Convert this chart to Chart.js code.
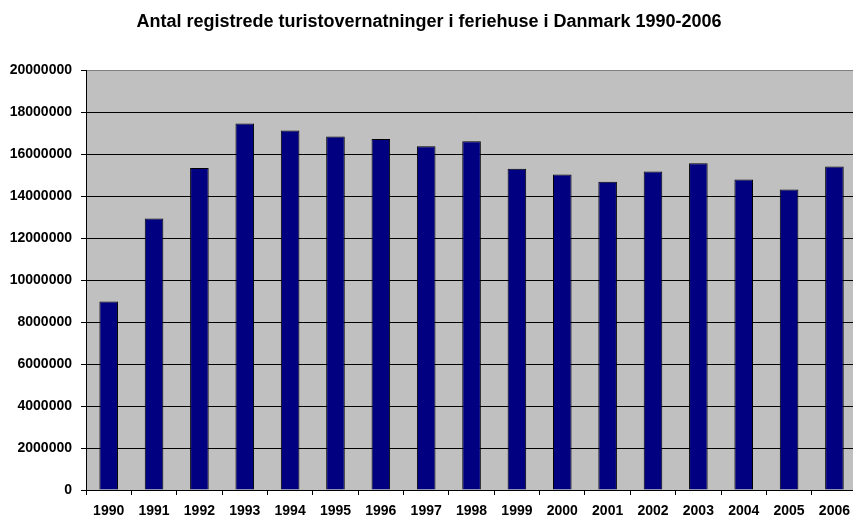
<!DOCTYPE html>
<html>
<head>
<meta charset="utf-8">
<title>Turistovernatninger i feriehuse</title>
<script src="https://cdn.jsdelivr.net/npm/chart.js@4/dist/chart.umd.min.js"></script>
<style>
  html, body { margin: 0; padding: 0; background: #fff; overflow: hidden; }
  #wrap { width: 858px; height: 517px; }
</style>
</head>
<body>
<div id="wrap"><canvas id="chart" width="858" height="517"></canvas></div>
<script>
var years = ["1990", "1991", "1992", "1993", "1994", "1995", "1996", "1997", "1998",
             "1999", "2000", "2001", "2002", "2003", "2004", "2005", "2006"];
var overnatninger = [8990000, 12950000, 15360000, 17480000, 17140000, 16860000, 16740000, 16390000, 16630000,
                     15320000, 15050000, 14700000, 15190000, 15580000, 14810000, 14330000, 15430000];
var yTicks = [0, 2000000, 4000000, 6000000, 8000000, 10000000, 12000000, 14000000, 16000000, 18000000, 20000000];
var titleText = "Antal registrede turistovernatninger i feriehuse i Danmark 1990-2006";

var plotBackground = {
  id: "plotBackground",
  beforeDraw: function(chart) {
    var ctx = chart.ctx;
    var a = chart.chartArea;
    ctx.save();
    ctx.fillStyle = "#C0C0C0";
    ctx.fillRect(a.left, a.top, a.right - a.left, a.bottom - a.top);
    ctx.restore();
  }
};

var labelFont = { family: "'Liberation Sans', Arial, sans-serif", size: 14, weight: "bold" };

new Chart(document.getElementById("chart"), {
  type: "bar",
  data: {
    labels: years,
    datasets: [{
      data: overnatninger,
      backgroundColor: "#000080",
      borderColor: "#000000",
      borderWidth: 1,
      categoryPercentage: 1,
      barPercentage: 0.41
    }]
  },
  options: {
    responsive: false,
    animation: false,
    layout: { padding: 0 },
    plugins: {
      legend: { display: false },
      tooltip: { enabled: false },
      title: {
        display: true,
        text: titleText,
        color: "#000000",
        font: { family: "'Liberation Sans', Arial, sans-serif", size: 18, weight: "bold" },
        padding: { top: 11, bottom: 38 }
      }
    },
    scales: {
      x: {
        grid: {
          drawOnChartArea: false,
          drawTicks: true,
          tickLength: 5,
          offset: true,
          color: "#000000"
        },
        border: { color: "#000000", width: 1 },
        ticks: { color: "#000000", font: labelFont, padding: 8, maxRotation: 0, autoSkip: false },
        afterFit: function(scale) { scale.height = 27; }
      },
      y: {
        min: 0,
        max: 20000000,
        afterBuildTicks: function(scale) {
          scale.ticks = yTicks.map(function(v) { return { value: v }; });
        },
        grid: {
          color: function(ctx) {
            return ctx.tick && ctx.tick.value === 20000000 ? "#808080" : "#000000";
          },
          tickColor: "#000000",
          tickLength: 5,
          lineWidth: 1
        },
        border: { color: "#000000", width: 1 },
        ticks: {
          color: "#000000",
          font: labelFont,
          padding: 9,
          callback: function(value) { return String(value); }
        },
        afterFit: function(scale) { scale.width = 86; }
      }
    }
  },
  plugins: [plotBackground]
});
</script>
</body>
</html>
